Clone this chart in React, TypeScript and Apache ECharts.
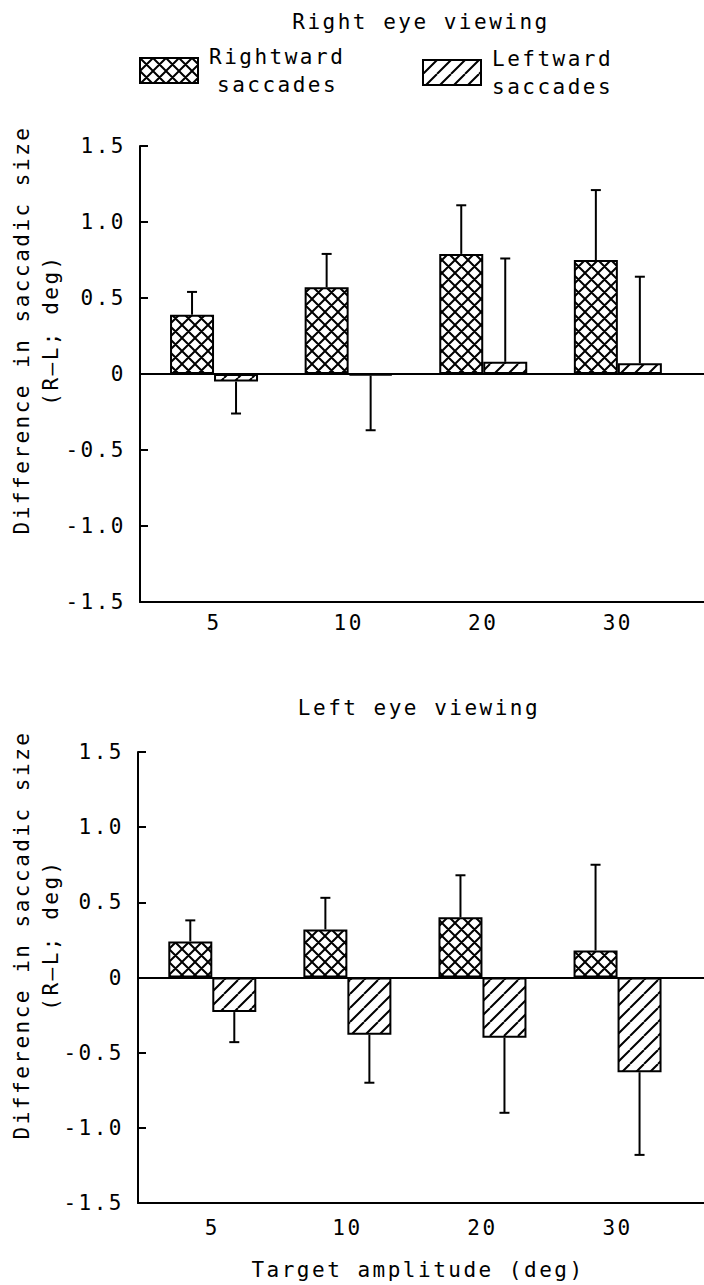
import React, { useEffect, useRef } from "react";
import * as echarts from "echarts";

// ---------- data ----------
const amplitudeLabels = ["5", "10", "20", "30"];
const yTickLabels = ["-1.5", "-1.0", "-0.5", "0", "0.5", "1.0", "1.5"];
const seriesNames = ["Rightward saccades", "Leftward saccades"];
const legendLine1 = ["Rightward", "Leftward"];
const legendLine2 = ["saccades", "saccades"];

// Right eye viewing (top panel)
const rightEyeRightward = [0.39, 0.57, 0.79, 0.75];
const rightEyeRightwardErrEnd = [0.54, 0.79, 1.11, 1.21];
const rightEyeLeftward = [-0.05, -0.01, 0.08, 0.07];
const rightEyeLeftwardErrEnd = [-0.26, -0.37, 0.76, 0.64];

// Left eye viewing (bottom panel)
const leftEyeRightward = [0.24, 0.32, 0.4, 0.18];
const leftEyeRightwardErrEnd = [0.38, 0.53, 0.68, 0.75];
const leftEyeLeftward = [-0.23, -0.38, -0.4, -0.63];
const leftEyeLeftwardErrEnd = [-0.43, -0.7, -0.9, -1.18];

// ---------- style constants ----------
const FONT = "DejaVu Sans Mono";
const FS = 21;
const BAR_W = 44;
const CAP = 5;

function makePattern(kind: "cross" | "hatch") {
  const T = kind === "cross" ? 13 : 14;
  const c = document.createElement("canvas");
  c.width = T;
  c.height = T;
  const ctx = c.getContext("2d") as CanvasRenderingContext2D;
  ctx.fillStyle = "#fff";
  ctx.fillRect(0, 0, T, T);
  ctx.strokeStyle = "#000";
  ctx.lineWidth = 2;
  ctx.beginPath();
  for (const k of [-1, 0, 1]) {
    ctx.moveTo(k * T, T);
    ctx.lineTo(k * T + T, 0);
    if (kind === "cross") {
      ctx.moveTo(k * T, 0);
      ctx.lineTo(k * T + T, T);
    }
  }
  ctx.stroke();
  return { image: c, repeat: "repeat" };
}

export default function App() {
  const ref = useRef<HTMLDivElement>(null);

  useEffect(() => {
    if (!ref.current) return;
    const chart = echarts.init(ref.current, undefined, { renderer: "svg" });
    const cross = makePattern("cross");
    const hatch = makePattern("hatch");

    const pos = (i: number) => i + 1;

    const mkX = (gi: number, margin: number) => ({
      type: "value",
      gridIndex: gi,
      min: 0.45,
      max: 4.64,
      axisLine: { show: true, onZero: false, lineStyle: { color: "#000", width: 2 } },
      axisTick: { show: false },
      splitLine: { show: false },
      axisLabel: {
        customValues: amplitudeLabels.map((_, i) => pos(i)),
        formatter: (v: number) => amplitudeLabels[Math.round(v) - 1] ?? "",
        margin,
        color: "#000",
        fontFamily: FONT,
        fontSize: FS,
      },
    });

    const mkY = (gi: number) => ({
      type: "value",
      gridIndex: gi,
      min: -1.5,
      max: 1.5,
      interval: 0.5,
      axisLine: { show: true, onZero: false, lineStyle: { color: "#000", width: 2 } },
      axisTick: { show: true, inside: true, length: 8, lineStyle: { color: "#000", width: 2 } },
      splitLine: { show: false },
      axisLabel: {
        margin: 14,
        color: "#000",
        fontFamily: FONT,
        fontSize: FS,
        formatter: (v: number) => yTickLabels[Math.round((v + 1.5) / 0.5)] ?? "",
      },
    });

    const zeroLine = {
      silent: true,
      symbol: ["none", "none"],
      label: { show: false },
      lineStyle: { color: "#000", width: 2, type: "solid" },
      data: [{ yAxis: 0 }],
    };

    const mkBar = (gi: number, si: number, values: number[], withZero: boolean) => ({
      type: "bar",
      name: seriesNames[si],
      xAxisIndex: gi,
      yAxisIndex: gi,
      barWidth: BAR_W,
      barGap: "0%",
      data: values.map((v, i) => [pos(i), v]),
      itemStyle: { color: si === 0 ? cross : hatch, borderColor: "#000", borderWidth: 2 },
      emphasis: { disabled: true },
      markLine: withZero ? zeroLine : undefined,
      z: 2,
    });

    const mkErr = (gi: number, sets: { v: number[]; e: number[]; side: number }[]) => ({
      type: "custom",
      xAxisIndex: gi,
      yAxisIndex: gi,
      silent: true,
      z: 3,
      encode: { x: 0, y: [1, 2] },
      data: sets.flatMap((s) => s.v.map((v, i) => [pos(i), v, s.e[i], s.side])),
      renderItem: (_p: any, api: any) => {
        const x = api.value(0);
        const v = api.value(1);
        const e = api.value(2);
        const side = api.value(3);
        const p0 = api.coord([x, v]);
        const p1 = api.coord([x, e]);
        const cx = p0[0] + side * (BAR_W / 2);
        const st = { stroke: "#000", lineWidth: 2 };
        return {
          type: "group",
          children: [
            { type: "line", shape: { x1: cx, y1: p0[1], x2: cx, y2: p1[1] }, style: st },
            { type: "line", shape: { x1: cx - CAP, y1: p1[1], x2: cx + CAP, y2: p1[1] }, style: st },
          ],
        };
      },
    });

    const mkLegend = (si: number, left: number, top: number) => ({
      data: [seriesNames[si]],
      left,
      top,
      padding: 0,
      itemWidth: 58,
      itemHeight: 25,
      icon: "rect",
      selectedMode: false,
      itemStyle: { borderColor: "#000", borderWidth: 2 },
      formatter: () => `{a|${legendLine1[si]}}\n{b|${legendLine2[si]}}`,
      textStyle: {
        color: "#000",
        fontFamily: FONT,
        fontSize: FS,
        rich: {
          a: { fontFamily: FONT, fontSize: FS, color: "#000", lineHeight: 28, padding: [0, 0, 0, 6] },
          b: {
            fontFamily: FONT,
            fontSize: FS,
            color: "#000",
            lineHeight: 28,
            padding: [0, 0, 0, si === 0 ? 14 : 6],
          },
        },
      },
    });

    const txt = (text: string, x: number, y: number, rot = 0) => ({
      type: "text",
      x,
      y,
      rotation: rot,
      silent: true,
      style: {
        text,
        align: "center",
        verticalAlign: "middle",
        fontFamily: FONT,
        fontSize: FS,
        fill: "#000",
      },
    });

    chart.setOption({
      animation: false,
      backgroundColor: "#fff",
      textStyle: { fontFamily: FONT, fontSize: FS, color: "#000" },
      grid: [
        { left: 140, top: 146, right: 0, height: 456 },
        { left: 138, top: 752, right: 0, height: 451 },
      ],
      legend: [mkLegend(0, 139, 46), mkLegend(1, 422, 48)],
      xAxis: [mkX(0, 10), mkX(1, 14)],
      yAxis: [mkY(0), mkY(1)],
      series: [
        mkBar(0, 0, rightEyeRightward, true),
        mkBar(0, 1, rightEyeLeftward, false),
        mkBar(1, 0, leftEyeRightward, true),
        mkBar(1, 1, leftEyeLeftward, false),
        mkErr(0, [
          { v: rightEyeRightward, e: rightEyeRightwardErrEnd, side: -1 },
          { v: rightEyeLeftward, e: rightEyeLeftwardErrEnd, side: 1 },
        ]),
        mkErr(1, [
          { v: leftEyeRightward, e: leftEyeRightwardErrEnd, side: -1 },
          { v: leftEyeLeftward, e: leftEyeLeftwardErrEnd, side: 1 },
        ]),
      ],
      graphic: [
        txt("Right eye viewing", 421, 22),
        txt("Left eye viewing", 419, 708),
        txt("Difference in saccadic size", 22, 330, Math.PI / 2),
        txt("(R\u2013L; deg)", 51, 330, Math.PI / 2),
        txt("Difference in saccadic size", 22, 935, Math.PI / 2),
        txt("(R\u2013L; deg)", 51, 935, Math.PI / 2),
        txt("Target amplitude (deg)", 418, 1270),
      ],
    });

    return () => chart.dispose();
  }, []);

  return (
    <div
      ref={ref}
      style={{
        position: "absolute",
        left: 0,
        top: 0,
        width: 704,
        height: 1285,
        letterSpacing: "2.5px",
        overflow: "hidden",
      }}
    />
  );
}
